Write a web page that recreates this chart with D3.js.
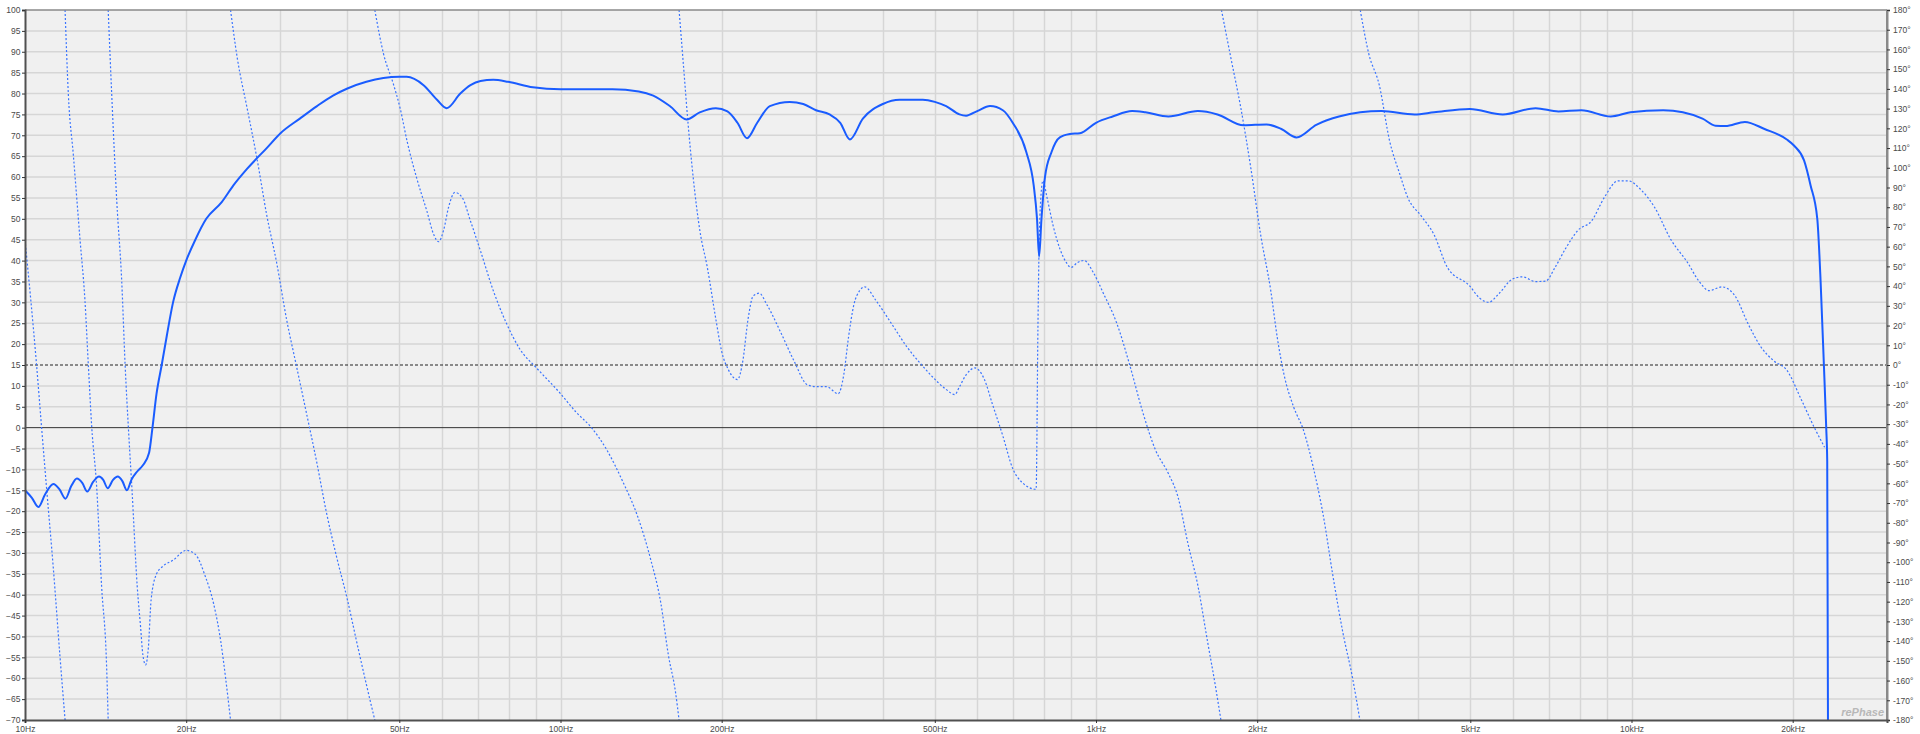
<!DOCTYPE html>
<html><head><meta charset="utf-8">
<script src="https://cdn.jsdelivr.net/npm/d3@7/dist/d3.min.js"></script>
<style>
body{margin:0;background:#fff;}
svg{display:block;}
text{font-family:"Liberation Sans","DejaVu Sans",sans-serif;}
</style>
</head><body>
<svg id="c" width="1920" height="734"></svg>
<script>
// ---------- data ----------
const dbTicks = d3.range(-70, 101, 5);
const degTicks = d3.range(-180, 181, 10);
const freqTickValues = [10,20,50,100,200,500,1000,2000,5000,10000,20000];
const freqTickLabels = ["10Hz","20Hz","50Hz","100Hz","200Hz","500Hz","1kHz","2kHz","5kHz","10kHz","20kHz"];

const magFreq = [10,10.3,10.59,10.9,11.3,11.6,11.9,12.2,12.5,12.8,13.07,13.4,13.75,14.0,14.27,14.6,14.9,15.2,15.5,15.8,16.2,16.6,17.05,17.3,17.6,18.0,18.4,18.9,19.5,20,20.8,21.8,23.3,24.5,26,28.3,30,32.6,35.1,37.6,40,43.4,46.7,50,51.6,55.5,58.8,61.3,65,67.9,70.9,74.9,79.9,88.8,100,125,140,149,160,172,182,195,205,214,223,233,246,268,284,300,318,333,347,367,400,430,475,500,525,556,572,600,634,670,699,741,765,776,783,791,803,826,856,894,933,1000,1074,1168,1237,1365,1550,1686,1887,2082,2219,2369,2578,2843,3414,3934,4279,4990,5749,6621,7305,8061,9148,9954,11460,12470,13570,14350,14970,16280,17720,19500,20130,21000,21600,22230,22550,22870,23100,23200,23300];
const magDb = [-15,-16.8,-19,-16,-13.5,-14.8,-17,-14,-12.2,-13.3,-15.3,-13,-11.7,-12.5,-14.5,-12.5,-11.7,-12.8,-15,-12.5,-10.5,-9,-6,0,8,15,22,30,36,40,45,50,54,58,62,67,70.5,74,77,79.5,81.2,82.8,83.7,84,84,82,78.5,76.5,80,82,83,83.3,82.8,81.5,81,81,80.5,79.5,77,73.8,75.5,76.5,75.7,73,69.3,73,77,78,77.5,76,75,73,69,74,77.5,78.5,78.5,78,77,75,74.7,75.8,77,76,73,66,58,50,41,50,60,66,69.5,70.3,70.5,73,74.5,75.8,75.5,74.5,75.8,75,72.4,72.6,71.5,69.5,72.5,74.5,75.8,75,75.5,76.3,75,76.5,75.7,76,74.5,75.5,76,75.5,74,72.3,72.2,73.2,71.5,69,67.5,64,58,50,35,15,0,-8,-90];

// phase, wrapped to +/-180 deg
const phaseFreq = [10,10.51,10.74,10.98,11.3,11.62,11.88,
 11.88,12.05,12.31,12.67,12.94,13.13,13.32,13.61,13.9,14.2,14.3,
 14.3,14.52,14.84,15.16,15.38,15.61,15.84,16.2,16.44,16.6,16.8,17.0,17.2,17.6,18.1,18.9,20,20.8,21.7,22.5,23.2,23.7,24.2,
 24.2,24.9,26,27.1,28.3,29.5,30.8,32.1,33.5,35.1,36.5,38.2,40,41.6,43.4,45,
 45,46.7,48.8,50.2,51.7,53.9,56.3,58,59.2,60.5,61.8,63.5,65.5,67.9,70.9,74.9,79.3,84,90.2,100,107,114.3,122,131,139,147,154,159,164,166.5,
 166.5,170,173,177,182,188,195,200,206,214,219,224,229,235,243,258,273,289,300,314,330,338,345,353,362,370,388,415,444,474,491,524,545,556,572,594,619,640,670,699,729,773,779,782,787,796,810,831,856,880,898,924,950,988,1032,1094,1156,1222,1291,1365,1423,1485,1550,1615,1674,1711,
 1715,1785,1865,1947,2030,2120,2180,2245,2340,2440,2546,2656,2770,2890,3015,3110,
 3115,3230,3380,3535,3690,3820,4050,4280,4530,4990,5200,5410,5665,5995,6260,6620,6910,7200,7530,7950,8420,8900,9440,9850,10430,11040,11850,12720,13380,13960,14760,15610,16500,17460,18460,19500,20710,21920,22940];
const phaseDeg = [63.5,0,-31.8,-63.5,-103.7,-147.4,-180,
 180,137,106.5,63.5,32.8,0,-31,-62,-112,-152,-180,
 180,137,82.8,42,0,-33.5,-63,-112,-133,-147,-152,-143,-119,-106,-102,-99,-94,-96,-107,-121,-140,-159,-180,
 180,156,130,105,75.5,52,23,0,-23.7,-50,-74,-97.5,-119,-140,-162,-180,
 180,158,142,130,113.5,94.6,78,66,62.5,68.4,80,87.5,85,73,57.8,37.7,21,8,-1.5,-14.5,-24,-31.8,-43,-59.7,-76,-97.5,-121,-147,-166,-180,
 180,149,123,94.6,68.4,49.5,23.3,6.8,-2.6,-7.4,2,23.3,35,36.4,30.5,16.3,2,-10,-11,-11,-14.6,-5,14,30.5,37.7,39.6,32.8,21,9,-0.4,-5,-12.2,-15,-11,-5,-1.5,-7.4,-19.5,-36,-52.5,-59.7,-63,18.4,52,80,93.4,85,71,59,52,49.5,52,53,47,36.4,21,0,-23.7,-43,-55,-67,-90.6,-112,-140,-164,-180,
 180,156,130,99.4,66,37.7,14,-5,-21.4,-33,-52,-76,-107,-135.5,-159,-180,
 180,158,142,113.5,97,85,75.5,66,49.5,40,34,31.8,36.4,43.6,44.7,42.3,42.5,49.5,59,68.4,73,85,93.4,93.4,88.7,80,63.5,52,42.3,37.7,39.6,35,21,9,2,-2.6,-17,-31.4,-41.7];

// ---------- layout ----------
const L = 25, R = 1887, T = 10, B = 720;
const svg = d3.select("#c");
const x = d3.scaleLog().domain([10, 30000]).range([L, R]);
const yDb = d3.scaleLinear().domain([-70, 100]).range([B, T]);
const yDeg = d3.scaleLinear().domain([-180, 180]).range([B, T]);

svg.append("rect").attr("x", L).attr("y", T).attr("width", R - L).attr("height", B - T).attr("fill", "#f0f0f0");

// grid
const gridFreqs = [];
[10, 100, 1000, 10000].forEach(d => { for (let k = 1; k <= 9; k++) { const f = d * k; if (f > 10 && f < 30000) gridFreqs.push(f); } });
const grid = svg.append("g");
grid.selectAll("line.v").data(gridFreqs).join("line")
  .attr("x1", d => Math.round(x(d)) + 0.5).attr("x2", d => Math.round(x(d)) + 0.5)
  .attr("y1", T).attr("y2", B).attr("stroke", "#d6d6d6").attr("stroke-width", 1.5);
grid.selectAll("line.h").data(dbTicks.filter(d => d > -70 && d < 100 && d !== 0 && d !== 15)).join("line")
  .attr("x1", L).attr("x2", R)
  .attr("y1", d => yDb(d)).attr("y2", d => yDb(d)).attr("stroke", "#d6d6d6").attr("stroke-width", 1.5);

// reference lines
svg.append("line").attr("x1", L).attr("x2", R).attr("y1", yDb(0)).attr("y2", yDb(0)).attr("stroke", "#333").attr("stroke-width", 1);
svg.append("line").attr("x1", L).attr("x2", R).attr("y1", yDeg(0)).attr("y2", yDeg(0)).attr("stroke", "#222").attr("stroke-width", 1).attr("stroke-dasharray", "3,2");

// clip
svg.append("clipPath").attr("id", "clip").append("rect").attr("x", L).attr("y", T).attr("width", R - L).attr("height", B - T);

// phase segments
const phasePts = phaseFreq.map((f, i) => [f, phaseDeg[i]]);
const segs = [];
let cur = [phasePts[0]];
for (let i = 1; i < phasePts.length; i++) {
  if (Math.abs(phasePts[i][1] - phasePts[i - 1][1]) > 270) { segs.push(cur); cur = []; }
  cur.push(phasePts[i]);
}
segs.push(cur);
const phaseLine = d3.line().x(d => x(d[0])).y(d => yDeg(d[1])).curve(d3.curveMonotoneX);
svg.append("g").attr("clip-path", "url(#clip)").selectAll("path").data(segs).join("path")
  .attr("d", phaseLine).attr("fill", "none").attr("stroke", "#3a74ff").attr("stroke-width", 1.2).attr("stroke-dasharray", "2,2");

// magnitude
const magPts = magFreq.map((f, i) => [f, magDb[i]]);
const magLine = d3.line().x(d => x(d[0])).y(d => yDb(d[1])).curve(d3.curveMonotoneX);
svg.append("path").attr("clip-path", "url(#clip)").datum(magPts).attr("d", magLine)
  .attr("fill", "none").attr("stroke", "#1a5cff").attr("stroke-width", 2);

// frame
svg.append("line").attr("x1", L).attr("x2", R).attr("y1", T).attr("y2", T).attr("stroke", "#8a8a8a").attr("stroke-width", 1.5);
svg.append("line").attr("x1", R).attr("x2", R).attr("y1", T).attr("y2", B).attr("stroke", "#8a8a8a").attr("stroke-width", 2);

// axes
const fs = "8.5px", tc = "#4a4a4a";
const axL = svg.append("g").attr("transform", `translate(${L},0)`)
  .call(d3.axisLeft(yDb).tickValues(dbTicks).tickFormat(d3.format("d")).tickSize(3).tickPadding(1.5));
const axR = svg.append("g").attr("transform", `translate(${R},0)`)
  .call(d3.axisRight(yDeg).tickValues(degTicks).tickFormat(d => d + "°").tickSize(3).tickPadding(3));
const axB = svg.append("g").attr("transform", `translate(0,${B})`)
  .call(d3.axisBottom(x).tickValues(freqTickValues).tickFormat((d, i) => freqTickLabels[i]).tickSize(3).tickPadding(3));
[axL, axR, axB].forEach(a => {
  a.selectAll("text").attr("font-size", fs).attr("fill", tc).style("font-family", '"Liberation Sans","DejaVu Sans",sans-serif');
  a.selectAll(".tick line").attr("stroke", "#333");
});
axL.select(".domain").attr("stroke", "#505050").attr("stroke-width", 2);
axB.select(".domain").attr("stroke", "#505050").attr("stroke-width", 2);
axR.select(".domain").attr("stroke", "#8a8a8a").attr("stroke-width", 2);

// watermark
svg.append("text").attr("x", R - 3).attr("y", B - 4).attr("text-anchor", "end")
  .attr("font-size", "11px").attr("font-style", "italic").attr("font-weight", "bold")
  .attr("fill", "#b8b8b8").text("rePhase");
</script>
</body></html>
